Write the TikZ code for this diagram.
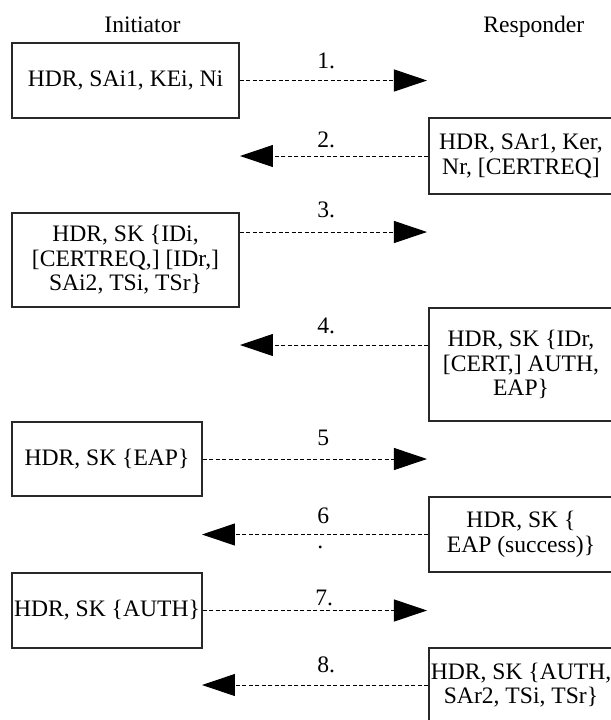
\documentclass[tikz,border=0pt]{standalone}
\usepackage{fontspec}
\setmainfont{Liberation Serif}
\usetikzlibrary{arrows.meta}
\definecolor{BoxLine}{RGB}{40,40,40}
\tikzset{
  msgbox/.style={draw=BoxLine,line width=0.65pt,align=center,inner sep=0pt},
  msg/.style={dash pattern=on 2pt off 1.25pt,line width=0.5pt,
    -{Triangle[length=16.5pt,width=11pt]}},
  num/.style={anchor=base west,inner sep=0pt}
}

\begin{document}
\begin{tikzpicture}[x=0.5pt,y=-0.5pt,font=\fontsize{11.8}{12.3}\selectfont]
  \useasboundingbox (0,0) rectangle (611,720);
  \clip (0,0) rectangle (611,720);
  % headers
  \node[num] (hi) at (104,32) {Initiator};
  \node[num] (hr) at (483,32) {Responder};
  % initiator side
  \node[msgbox,minimum width=113.5pt,minimum height=37.5pt] (b1) at (125.5,80.5) {HDR, SAi1, KEi, Ni};
  \node[msgbox,minimum width=113.5pt,minimum height=47pt] (b3) at (125.5,260) {HDR, SK \{IDi,\\ {[CERTREQ,] [IDr,]}\\ SAi2, TSi, TSr\}};
  \node[msgbox,minimum width=95pt,minimum height=37pt] (b5) at (107,459) {HDR, SK \{EAP\}};
  \node[msgbox,minimum width=95pt,minimum height=37.5pt] (b7) at (107,610.5) {HDR, SK \{AUTH\}};
  % responder side
  \node[msgbox,minimum width=92pt,minimum height=38pt] (b2) at (521,156) {HDR, SAr1, Ker,\\ Nr, [CERTREQ]};
  \node[msgbox,minimum width=92pt,minimum height=56.5pt] (b4) at (521,364.5) {HDR, SK \{IDr,\\ {[CERT,] AUTH,}\\ EAP\}};
  \node[msgbox,minimum width=92pt,minimum height=37.5pt] (b6) at (521,534.5) {HDR, SK \{\\ EAP (success)\}};
  \node[msgbox,minimum width=92pt,minimum height=37pt] (b8) at (521,685) {HDR, SK \{AUTH,\\ SAr2, TSi, TSr\}};
  % arrow ends
  \coordinate (t1) at (427,80.5);
  \coordinate (t2) at (240,156);
  \coordinate (t3) at (427,232);
  \coordinate (t4) at (240,345);
  \coordinate (t5) at (427,459);
  \coordinate (t6) at (202,534.5);
  \coordinate (t7) at (427,610.5);
  \coordinate (t8) at (202,685);
  \draw[msg] (b1) -- (t1);
  \draw[msg] (b2) -- (t2);
  \draw[msg] (b3.east |- t3) -- (t3);
  \draw[msg] (b4.west |- t4) -- (t4);
  \draw[msg] (b5) -- (t5);
  \draw[msg] (b6) -- (t6);
  \draw[msg] (b7) -- (t7);
  \draw[msg] (b8) -- (t8);
  % step numbers
  \node[num] (n1) at (317,68) {1.};
  \node[num] (n2) at (317,147) {2.};
  \node[num] (n3) at (317,217) {3.};
  \node[num] (n4) at (317,333) {4.};
  \node[num] (n5) at (317,445) {5};
  \node[num,align=left] (n6) at (317,548) {6\\[0pt].};
  \node[num] (n7) at (315,605) {7.};
  \node[num] (n8) at (317,672) {8.};
\end{tikzpicture}
\end{document}
